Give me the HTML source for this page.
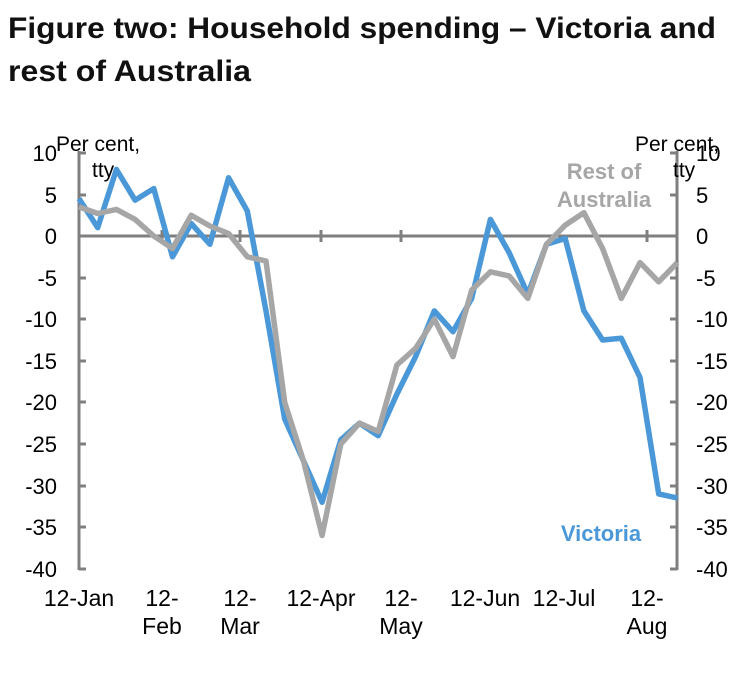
<!DOCTYPE html>
<html><head><meta charset="utf-8"><style>
body{margin:0;background:#fff;width:754px;height:691px;overflow:hidden}
</style></head><body>
<svg width="754" height="691" xmlns="http://www.w3.org/2000/svg" font-family="Liberation Sans, sans-serif">
<text x="8" y="38" font-size="30" font-weight="bold" fill="#111" textLength="708" lengthAdjust="spacingAndGlyphs">Figure two: Household spending – Victoria and</text>
<text x="8" y="81" font-size="30" font-weight="bold" fill="#111" textLength="243" lengthAdjust="spacingAndGlyphs">rest of Australia</text>
<g stroke="#7f7f7f" stroke-width="3" fill="none">
<line x1="79" y1="151" x2="79" y2="570"/>
<line x1="677" y1="151" x2="677" y2="570"/>
<line x1="79" y1="236" x2="677" y2="236"/>
<g>
<line x1="79" y1="153" x2="86" y2="153"/><line x1="79" y1="195" x2="86" y2="195"/><line x1="79" y1="278" x2="86" y2="278"/><line x1="79" y1="319" x2="86" y2="319"/><line x1="79" y1="361" x2="86" y2="361"/><line x1="79" y1="402" x2="86" y2="402"/><line x1="79" y1="444" x2="86" y2="444"/><line x1="79" y1="486" x2="86" y2="486"/><line x1="79" y1="527" x2="86" y2="527"/><line x1="79" y1="569" x2="86" y2="569"/>
</g>
<g>
<line x1="670" y1="153" x2="677" y2="153"/><line x1="670" y1="195" x2="677" y2="195"/><line x1="670" y1="278" x2="677" y2="278"/><line x1="670" y1="319" x2="677" y2="319"/><line x1="670" y1="361" x2="677" y2="361"/><line x1="670" y1="402" x2="677" y2="402"/><line x1="670" y1="444" x2="677" y2="444"/><line x1="670" y1="486" x2="677" y2="486"/><line x1="670" y1="527" x2="677" y2="527"/><line x1="670" y1="569" x2="677" y2="569"/>
</g>
<line x1="162" y1="230" x2="162" y2="242"/><line x1="240" y1="230" x2="240" y2="242"/><line x1="321" y1="230" x2="321" y2="242"/><line x1="401" y1="230" x2="401" y2="242"/><line x1="647" y1="230" x2="647" y2="242"/>
</g>
<g font-size="22" fill="#000" text-anchor="end">
<text x="57" y="161">10</text><text x="57" y="203">5</text><text x="57" y="244">0</text><text x="57" y="286">-5</text><text x="57" y="327">-10</text><text x="57" y="369">-15</text><text x="57" y="410">-20</text><text x="57" y="452">-25</text><text x="57" y="494">-30</text><text x="57" y="535">-35</text><text x="57" y="577">-40</text>
</g>
<g font-size="22" fill="#000" text-anchor="start">
<text x="696" y="161">10</text><text x="696" y="203">5</text><text x="696" y="244">0</text><text x="696" y="286">-5</text><text x="696" y="327">-10</text><text x="696" y="369">-15</text><text x="696" y="410">-20</text><text x="696" y="452">-25</text><text x="696" y="494">-30</text><text x="696" y="535">-35</text><text x="696" y="577">-40</text>
</g>
<g font-size="21" fill="#000">
<text x="56" y="151">Per cent,</text><text x="92" y="177">tty</text>
<text x="635" y="151">Per cent,</text><text x="673" y="177">tty</text>
</g>
<g font-size="23" fill="#000" text-anchor="middle">
<text x="79" y="606">12-Jan</text>
<text x="162" y="606">12-</text><text x="162" y="634">Feb</text>
<text x="240" y="606">12-</text><text x="240" y="634">Mar</text>
<text x="321" y="606">12-Apr</text>
<text x="401" y="606">12-</text><text x="401" y="634">May</text>
<text x="485" y="606">12-Jun</text>
<text x="564" y="606">12-Jul</text>
<text x="647" y="606">12-</text><text x="647" y="634">Aug</text>
</g>
<text x="604" y="179" font-size="22" font-weight="bold" fill="#a6a6a6" text-anchor="middle">Rest of</text>
<text x="604" y="207" font-size="22" font-weight="bold" fill="#a6a6a6" text-anchor="middle">Australia</text>
<text x="601" y="541" font-size="22" font-weight="bold" fill="#4a98d8" text-anchor="middle">Victoria</text>
<polyline fill="none" stroke="#4a98d8" stroke-width="5.5" stroke-linejoin="round" points="79,198.6 97.7,227.7 116.4,169.4 135.1,200.2 153.8,188.6 172.5,256.8 191.2,223.5 209.9,244.3 228.6,177.8 247.3,211 266,310.9 284.7,419 303.4,460.6 322.1,502.2 340.8,439.8 359.5,423.2 378.2,435.7 396.9,394.1 415.6,356.6 434.3,310.9 453,331.7 471.7,298.4 490.4,219.4 509.1,252.6 527.8,294.2 546.5,244.3 565.2,238.5 583.9,310.9 602.6,340 621.3,338.3 640,377.4 658.7,493.9 677.4,498"/>
<polyline fill="none" stroke="#a6a6a6" stroke-width="5.5" stroke-linejoin="round" points="79,206.9 97.7,213.5 116.4,209.4 135.1,219.4 153.8,236 172.5,248.5 191.2,215.2 209.9,226 228.6,233.5 247.3,256.8 266,261 284.7,402.4 303.4,460.6 322.1,535.5 340.8,444 359.5,423.2 378.2,431.5 396.9,365 415.6,348.3 434.3,319.2 453,356.6 471.7,290.1 490.4,271.8 509.1,275.9 527.8,298.4 546.5,244.3 565.2,225.2 583.9,212.7 602.6,248.5 621.3,298.4 640,262.6 658.7,281.8 677.4,262.6"/>
</svg>
</body></html>
